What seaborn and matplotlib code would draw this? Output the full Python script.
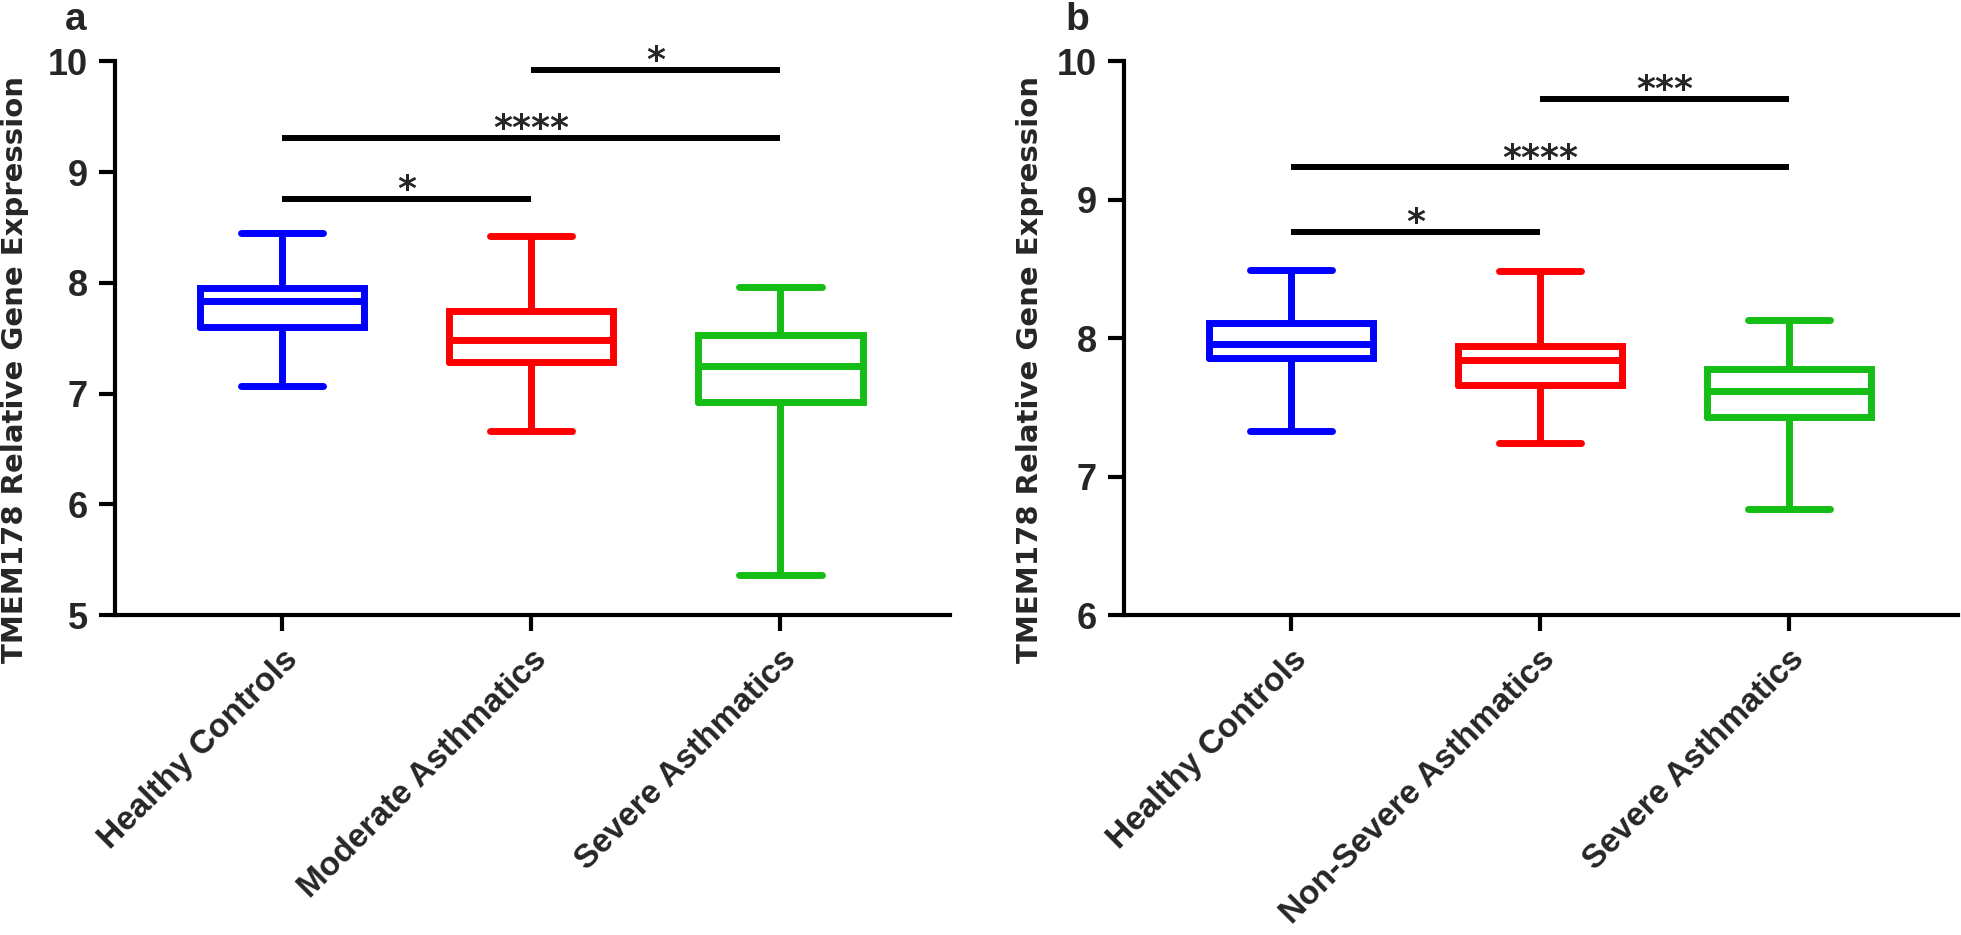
import matplotlib
matplotlib.use("Agg")
import matplotlib.pyplot as plt
import numpy as np
import pandas as pd
import seaborn as sns

# Categories
groups_a = ['Healthy Controls', 'Moderate Asthmatics', 'Severe Asthmatics']
groups_b = ['Healthy Controls', 'Non-Severe Asthmatics', 'Severe Asthmatics']

# five-number summaries (min, q1, median, q3, max)
lo_a = [7.07, 6.66, 5.36]
q1_a = [7.60, 7.29, 6.92]
med_a = [7.84, 7.48, 7.25]
q3_a = [7.95, 7.75, 7.53]
hi_a = [8.45, 8.42, 7.96]

lo_b = [7.33, 7.24, 6.77]
q1_b = [7.855, 7.665, 7.43]
med_b = [7.956, 7.844, 7.62]
q3_b = [8.108, 7.942, 7.78]
hi_b = [8.49, 8.485, 8.13]

# significance brackets
sig_a_pairs = [(0, 1), (0, 2), (1, 2)]
sig_a_y = [8.76, 9.31, 9.92]
sig_a_text = ['*', '****', '*']

sig_b_pairs = [(0, 1), (0, 2), (1, 2)]
sig_b_y = [8.77, 9.234, 9.728]
sig_b_text = ['*', '****', '***']

yticks_a = [5, 6, 7, 8, 9, 10]
yticks_b = [6, 7, 8, 9, 10]

colors = ['#0000FF', '#FF0000', '#14BE14']

sns.set_style("ticks")
plt.rcParams['font.family'] = ['Liberation Sans', 'DejaVu Sans']
plt.rcParams['lines.solid_joinstyle'] = 'miter'


def make_df(groups, lo, q1, med, q3, hi):
    # one row per five-number value, so the box stats come out exactly
    rows = []
    for i, g in enumerate(groups):
        for v in (lo[i], q1[i], med[i], q3[i], hi[i]):
            rows.append({'group': g, 'value': v})
    return pd.DataFrame(rows)


def draw_panel(ax, groups, df, ylim, yticks, pairs, sig_y, sig_text):
    sns.boxplot(data=df, x='group', y='value', hue='group', order=groups,
                hue_order=groups, palette=colors, fill=False, whis=(0, 100),
                width=0.66, linewidth=5, legend=False, ax=ax)
    ax.set_xlim(-0.67, 2.68)
    ax.set_ylim(*ylim)
    ax.set_yticks(yticks)
    ax.set_yticklabels([str(t) for t in yticks], fontsize=26, fontweight='bold')
    ax.set_xticks(range(len(groups)))
    ax.set_xticklabels(groups, rotation=45, ha='right', va='top',
                       rotation_mode='anchor', fontsize=24, fontweight='bold')
    ax.set_xlabel('')
    ax.set_ylabel('TMEM178 Relative Gene Expression', fontsize=21,
                  fontweight='bold', family='DejaVu Sans', va='center')
    sns.despine(ax=ax)
    for s in ['left', 'bottom']:
        ax.spines[s].set_linewidth(3)
        ax.spines[s].set_color('black')
    ax.tick_params(axis='both', length=11.5, width=3, color='black',
                   direction='out')
    ax.tick_params(axis='y', pad=8)
    ax.tick_params(axis='x', pad=9)

    # significance bars
    for (i, j), y, t in zip(pairs, sig_y, sig_text):
        ax.plot([i, j], [y, y], color='black', lw=4.3,
                solid_capstyle='butt', clip_on=False)
        ax.annotate(t, xy=((i + j) / 2, y), xytext=(0, -1),
                    textcoords='offset points', ha='center', va='baseline',
                    fontsize=26, fontweight='bold', family='DejaVu Sans',
                    annotation_clip=False)


fig = plt.figure(figsize=(19.61, 9.35), dpi=100)
ax1 = fig.add_axes([0.0586, 0.342, 0.4258, 0.5925])
ax2 = fig.add_axes([0.5732, 0.342, 0.4253, 0.5925])

df_a = make_df(groups_a, lo_a, q1_a, med_a, q3_a, hi_a)
df_b = make_df(groups_b, lo_b, q1_b, med_b, q3_b, hi_b)

draw_panel(ax1, groups_a, df_a, (5, 10), yticks_a, sig_a_pairs, sig_a_y, sig_a_text)
draw_panel(ax2, groups_b, df_b, (6, 10), yticks_b, sig_b_pairs, sig_b_y, sig_b_text)

ax1.yaxis.set_label_coords(-0.12, 0.444)
ax2.yaxis.set_label_coords(-0.113, 0.444)

# panel letters
fig.text(76 / 1961, 1 - 20 / 935, 'a', ha='center', va='center',
         fontsize=28, fontweight='bold')
fig.text(1077 / 1961, 1 - 20 / 935, 'b', ha='center', va='center',
         fontsize=28, fontweight='bold')

fig.savefig('out.png', dpi=100)
